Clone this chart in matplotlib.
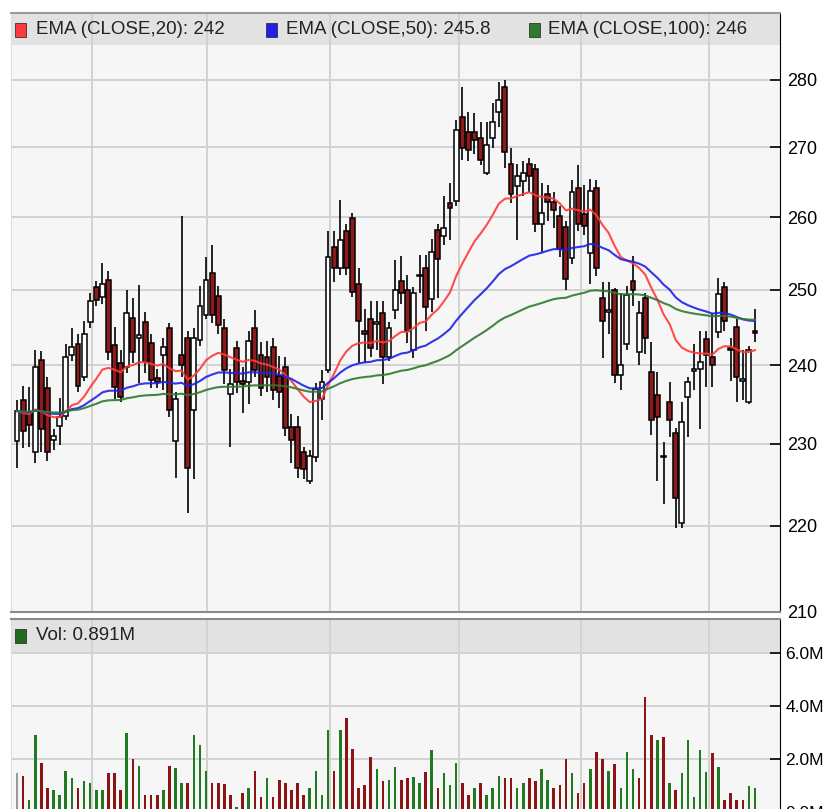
import numpy as np
import pandas as pd
import matplotlib
matplotlib.use("Agg")
import matplotlib.pyplot as plt
from matplotlib.patches import Rectangle
from matplotlib.ticker import FixedLocator, FixedFormatter, NullLocator

# ---------------- data ----------------
opens = [230.3, 235.5, 234.0, 229.0, 240.6, 237.0, 230.5, 232.2, 233.5, 241.3,
         242.8, 238.5, 245.6, 250.4, 249.0, 251.3, 242.6, 240.3, 239.7, 246.2,
         243.5, 245.6, 242.9, 238.3, 241.3, 244.9, 230.3, 241.3, 243.5, 234.2,
         243.3, 246.6, 252.3, 249.1, 244.9, 236.3, 242.2, 237.9, 237.8, 244.8,
         241.3, 241.1, 242.4, 238.6, 239.7, 232.1, 232.1, 229.0, 225.4, 228.4,
         235.6, 239.3, 255.8, 252.9, 258.1, 259.8, 250.7, 244.4, 246.1, 245.4,
         246.9, 241.1, 247.3, 251.1, 250.0, 241.9, 251.8, 252.9, 248.7, 258.2,
         257.3, 262.0, 262.2, 274.5, 272.2, 272.2, 271.3, 266.3, 271.3, 275.2,
         279.0, 267.6, 264.4, 265.1, 267.6, 266.8, 259.0, 263.3, 262.1, 260.1,
         258.6, 254.3, 264.1, 260.4, 255.0, 264.1, 248.8, 247.0, 250.0, 238.7,
         242.8, 251.1, 241.7, 248.8, 239.1, 236.2, 228.5, 235.2, 231.4, 220.4,
         235.9, 239.2, 239.5, 243.4, 241.0, 244.3, 250.4, 242.2, 245.0, 237.9,
         235.2, 244.5]
highs = [235.5, 237.3, 237.2, 241.9, 241.8, 238.5, 231.8, 235.8, 242.8, 244.9,
         244.0, 245.8, 249.5, 251.2, 253.6, 252.5, 245.0, 242.0, 250.0, 248.8,
         250.6, 247.0, 244.0, 239.5, 243.5, 245.5, 236.5, 260.1, 244.5, 244.9,
         250.5, 254.5, 256.1, 250.5, 246.0, 239.5, 243.2, 239.7, 244.5, 247.3,
         243.0, 243.2, 243.5, 241.2, 241.0, 233.7, 233.5, 229.6, 229.2, 237.7,
         239.3, 258.0, 258.0, 262.4, 259.0, 260.5, 252.9, 247.4, 248.4, 248.4,
         248.4, 245.6, 254.0, 254.6, 252.0, 250.4, 254.7, 254.7, 257.0, 259.0,
         263.0, 264.8, 274.0, 279.0, 275.2, 275.0, 273.7, 273.7, 276.5, 279.7,
         280.0, 269.9, 267.5, 268.0, 268.5, 267.5, 264.8, 264.5, 263.5, 261.5,
         259.5, 265.2, 267.4, 264.5, 265.4, 265.2, 251.0, 251.0, 250.2, 249.5,
         250.5, 254.6, 248.4, 249.5, 243.0, 239.1, 230.2, 237.8, 232.0, 235.3,
         238.5, 242.8, 244.5, 244.4, 246.8, 251.6, 251.0, 243.5, 246.0, 242.0,
         242.5, 247.4]
lows = [227.0, 229.5, 229.6, 227.6, 229.0, 227.9, 229.2, 229.8, 233.0, 240.5,
        236.5, 238.0, 244.9, 247.8, 248.0, 240.6, 235.6, 235.3, 239.0, 240.3,
        237.7, 239.0, 237.1, 237.0, 236.8, 233.4, 225.8, 238.5, 221.6, 225.6,
        242.5, 246.0, 245.5, 244.0, 237.5, 229.6, 236.4, 233.9, 235.0, 238.5,
        236.0, 236.5, 235.5, 234.5, 231.0, 227.6, 225.8, 225.6, 225.0, 227.8,
        233.0, 239.0, 251.0, 252.0, 252.0, 249.0, 240.3, 240.3, 241.0, 242.0,
        237.6, 240.5, 246.1, 248.0, 242.9, 240.9, 249.5, 244.5, 247.0, 248.8,
        256.1, 256.8, 261.5, 268.1, 268.0, 269.0, 267.4, 266.0, 269.9, 273.0,
        267.0, 262.0, 256.8, 263.0, 263.5, 257.9, 255.2, 259.5, 258.5, 254.5,
        250.0, 253.5, 258.0, 257.5, 250.8, 251.8, 240.9, 244.0, 237.7, 236.8,
        242.0, 247.8, 240.0, 241.5, 231.1, 225.4, 222.6, 230.9, 219.8, 219.8,
        230.9, 236.8, 231.8, 237.2, 237.2, 243.5, 244.5, 238.0, 235.2, 235.5,
        235.0, 243.0]
closes = [234.1, 231.6, 232.4, 239.8, 231.8, 229.0, 231.0, 233.3, 241.0, 242.3,
          237.3, 244.1, 248.4, 248.6, 250.8, 241.7, 237.2, 235.9, 246.9, 241.7,
          243.9, 240.4, 238.1, 237.8, 242.3, 234.2, 235.6, 240.0, 227.0, 243.6,
          247.8, 251.3, 246.6, 245.3, 239.3, 237.6, 237.8, 237.6, 243.2, 239.3,
          237.1, 238.5, 236.8, 236.5, 232.0, 230.5, 227.0, 226.9, 228.5, 236.9,
          237.8, 254.5, 252.9, 256.8, 252.9, 249.7, 245.8, 244.0, 242.2, 245.7,
          241.1, 244.9, 250.0, 249.5, 244.5, 249.5, 252.0, 247.7, 255.2, 254.1,
          258.5, 261.3, 272.5, 269.9, 269.6, 271.0, 268.1, 270.3, 273.7, 277.0,
          269.3, 263.2, 265.8, 266.2, 265.9, 259.0, 260.5, 262.1, 261.0, 255.5,
          251.5, 263.5, 259.0, 258.8, 263.7, 252.9, 245.8, 247.3, 238.7, 240.0,
          249.3, 250.0, 246.9, 243.5, 233.0, 233.4, 228.3, 233.0, 223.3, 232.7,
          237.8, 239.5, 240.4, 241.3, 240.0, 249.4, 245.8, 242.0, 238.4, 238.2,
          242.0, 244.2]
volumes_m = [1.46, 1.36, 0.45, 2.90, 1.84, 0.89, 0.83, 0.64, 1.55, 1.27,
             0.92, 1.18, 1.08, 0.83, 0.83, 1.46, 1.46, 0.83, 2.99, 2.00,
             1.74, 0.64, 0.64, 0.64, 0.83, 1.74, 1.65, 1.08, 1.08, 2.90,
             2.53, 1.55, 1.08, 1.08, 1.04, 0.64, 0.20, 0.73, 0.92, 1.55,
             0.55, 1.27, 0.55, 1.21, 1.08, 0.83, 1.08, 0.64, 0.92, 1.55,
             0.64, 3.09, 1.55, 3.09, 3.54, 2.36, 0.92, 1.00, 2.09, 1.62,
             1.17, 1.21, 1.71, 1.21, 1.27, 1.33, 1.08, 1.52, 2.34, 0.89,
             1.46, 1.02, 1.84, 1.08, 0.64, 0.89, 1.08, 0.64, 0.89, 1.36,
             1.27, 1.27, 0.89, 1.08, 1.27, 1.18, 1.61, 1.21, 0.89, 1.02,
             1.99, 1.46, 0.73, 1.08, 1.61, 2.28, 1.99, 1.55, 1.81, 0.89,
             2.28, 1.61, 1.27, 4.35, 2.90, 2.72, 2.82, 1.08, 0.83, 1.46,
             2.72, 0.55, 2.34, 1.52, 2.24, 1.71, 0.45, 0.73, 0.45, 0.45,
             0.98, 0.891]

price_ticks = [210, 220, 230, 240, 250, 260, 270, 280]
price_tick_labels = ["210", "220", "230", "240", "250", "260", "270", "280"]
vol_ticks = [0, 2, 4, 6]
vol_tick_labels = ["0.0M", "2.0M", "4.0M", "6.0M"]
month_breaks = [12.3, 31.1, 51.3, 72.5, 92.5, 113.4]
ema_spans = [20, 50, 100]
ema_labels = ["EMA (CLOSE,20): 242", "EMA (CLOSE,50): 245.8", "EMA (CLOSE,100): 246"]
vol_label = "Vol: 0.891M"

# ---------------- style ----------------
FONT = ["Liberation Sans", "DejaVu Sans"]
ema_colors = ["#ff3a3a", "#2020e8", "#2e7a2e"]
up_fill, down_fill = "white", "#8e1b1b"
vol_up, vol_down, vol_first = "#217a21", "#8b1414", "#9a9a9a"
bg = "#f6f6f6"
grid_c = "#d2d2d2"
band_c = "#e2e2e2"

W, H = 828, 809
fig = plt.figure(figsize=(W / 100, H / 100), dpi=100)
fig.patch.set_facecolor("white")


def fx(px):
    return px / W


def fy(py):
    return (H - py) / H


ax = fig.add_axes([fx(11), fy(612), fx(780) - fx(11), fy(13) - fy(612)])
axv = fig.add_axes([fx(11), fy(812), fx(780) - fx(11), fy(619) - fy(812)])

o = np.array(opens); h = np.array(highs); l = np.array(lows); c = np.array(closes)
v = np.array(volumes_m)
x = np.arange(len(c))
xlim = (-0.98, 125.1)

# ---------------- price panel ----------------
ax.set_facecolor(bg)
ax.set_yscale("log")
ax.set_ylim(210, 290.33)
ax.set_xlim(*xlim)
ax.set_axisbelow(True)
ax.yaxis.set_major_locator(FixedLocator(price_ticks))
ax.yaxis.set_major_formatter(FixedFormatter(price_tick_labels))
ax.yaxis.set_minor_locator(NullLocator())
ax.xaxis.set_major_locator(FixedLocator(month_breaks))
ax.xaxis.set_minor_locator(NullLocator())
ax.set_xticklabels([])
ax.tick_params(axis="x", length=0)
ax.yaxis.tick_right()
ax.tick_params(axis="y", direction="in", length=7, width=1.2, pad=5, labelsize=13,
               colors="black")
for t in ax.get_yticklabels():
    t.set_fontfamily(FONT)
ax.grid(True, color=grid_c, lw=1.4)
ax.spines["right"].set_color("black")
ax.spines["top"].set_color("#9a9a9a")
ax.spines["left"].set_color("#dddddd")
ax.spines["bottom"].set_color("#8a8a8a")
ax.spines["top"].set_linewidth(1.5)
ax.spines["bottom"].set_linewidth(1.5)

ax.add_patch(Rectangle((0, 1 - 32 / 599), 1, 32 / 599, transform=ax.transAxes,
                       facecolor=band_c, edgecolor="none", zorder=0.3))

up = c >= o
ax.vlines(x, l, h, color="black", lw=1.2, zorder=2)
ax.bar(x, np.maximum(np.abs(c - o), 0.15), bottom=np.minimum(o, c), width=0.8,
       color=np.where(up, up_fill, down_fill), edgecolor="black", linewidth=1.1,
       zorder=3)

cs = pd.Series(closes)
for span, col in zip(ema_spans, ema_colors):
    ema = cs.ewm(span=span, adjust=False).mean()
    ax.plot(x, ema.values, color=col, lw=1.5, zorder=4, alpha=0.9)

# legend band text
leg_x = [15, 266, 529]
leg_tx = [36, 286, 548]
for sx, tx, lab, col in zip(leg_x, leg_tx, ema_labels, ema_colors):
    fig.add_artist(Rectangle((fx(sx), fy(37)), fx(11), 14 / H, transform=fig.transFigure,
                             facecolor=col, edgecolor="#333333", lw=0.6))
    fig.text(fx(tx), fy(30), lab, ha="left", va="center", fontsize=13.5,
             family=FONT, color="#222222")

# ---------------- volume panel ----------------
axv.set_facecolor(bg)
axv.set_xlim(*xlim)
axv.set_ylim(0, 7.28)
axv.set_axisbelow(True)
axv.yaxis.set_major_locator(FixedLocator(vol_ticks))
axv.yaxis.set_major_formatter(FixedFormatter(vol_tick_labels))
axv.xaxis.set_major_locator(FixedLocator(month_breaks))
axv.set_xticklabels([])
axv.tick_params(axis="x", length=0)
axv.yaxis.tick_right()
axv.tick_params(axis="y", direction="in", length=7, width=1.2, pad=4, labelsize=12.5)
for t in axv.get_yticklabels():
    t.set_fontfamily(FONT)
axv.grid(True, color=grid_c, lw=1.4)
axv.spines["right"].set_color("black")
axv.spines["top"].set_color("#8a8a8a")
axv.spines["top"].set_linewidth(1.5)
axv.spines["left"].set_color("#dddddd")
axv.add_patch(Rectangle((0, 1 - 34 / 193), 1, 34 / 193, transform=axv.transAxes,
                        facecolor=band_c, edgecolor="none", zorder=0.3))

prev = np.concatenate([[np.nan], c[:-1]])
vcol = np.where(c >= prev, vol_up, vol_down).astype(object)
vcol[0] = vol_first
axv.bar(x, v, width=0.42, color=list(vcol), zorder=3)

fig.add_artist(Rectangle((fx(15), fy(643)), fx(11), 14 / H, transform=fig.transFigure,
                         facecolor="#1e6b1e", edgecolor="#333333", lw=0.6))
fig.text(fx(36), fy(636), vol_label, ha="left", va="center", fontsize=13.5,
         family=FONT, color="#222222")

fig.savefig("out.png", dpi=100, facecolor="white")
